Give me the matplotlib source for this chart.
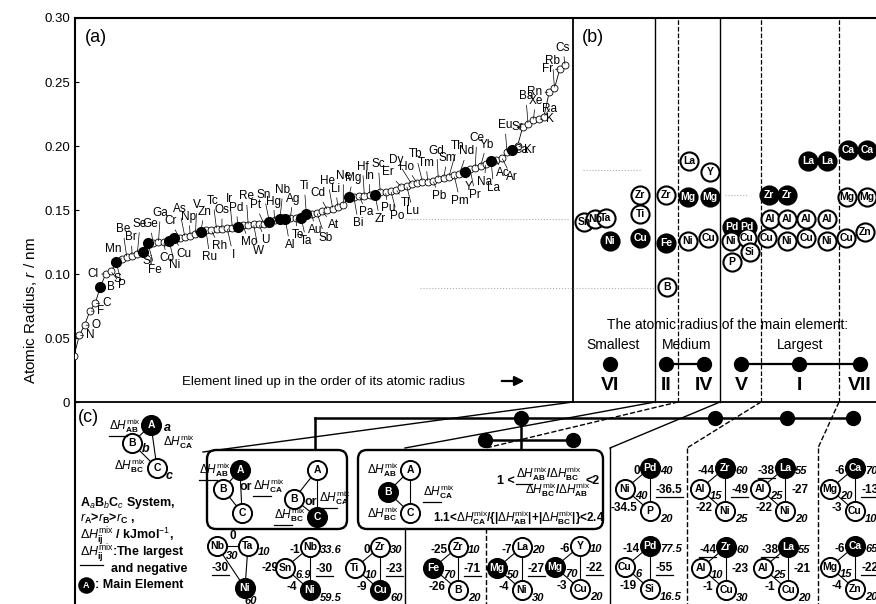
import numpy as np
import matplotlib.pyplot as plt
from matplotlib.patches import FancyBboxPatch
from matplotlib.textpath import TextPath
from matplotlib.font_manager import FontProperties

plt.rcParams['font.family'] = ['Liberation Sans', 'DejaVu Sans']
plt.rcParams['mathtext.fontset'] = 'custom'
plt.rcParams['mathtext.rm'] = 'Liberation Sans'
plt.rcParams['mathtext.it'] = 'Liberation Sans:italic'
plt.rcParams['mathtext.bf'] = 'Liberation Sans:bold'
NARROW = ['Liberation Sans Narrow', 'Liberation Sans']

# ---- (a) elements ordered by atomic radius (nm)
elements = ['H', 'N', 'O', 'F', 'C', 'B', 'Cl', 'S', 'P', 'Mn',
            'Be', 'Br', 'Se', 'Si', 'Fe', 'Ge', 'Ga', 'Co', 'Ni', 'Cu',
            'Cr', 'As', 'Np', 'V', 'Zn', 'Ru', 'Rh', 'Tc', 'Os', 'I',
            'Ir', 'Pd', 'Mo', 'Re', 'W', 'U', 'Pt', 'Sn', 'Hg', 'Nb',
            'Al', 'Ag', 'Te', 'Ta', 'Ti', 'Au', 'Sb', 'At', 'Cd', 'He',
            'Li', 'Ne', 'Mg', 'Bi', 'Pa', 'Hf', 'In', 'Zr', 'Sc', 'Pu',
            'Po', 'Tl', 'Er', 'Lu', 'Dy', 'Ho', 'Tb', 'Tm', 'Pb', 'Gd',
            'Sm', 'Th', 'Pm', 'Nd', 'Y', 'Pr', 'Ce', 'Yb', 'Na', 'La',
            'Ac', 'Ar', 'Eu', 'Ca', 'Kr', 'Sr', 'Ba', 'Xe', 'K', 'Ra',
            'Rn', 'Rb', 'Fr', 'Cs']
radii = [0.036, 0.052, 0.060, 0.071, 0.077, 0.090, 0.100, 0.102, 0.109, 0.112,
         0.113, 0.114, 0.116, 0.117, 0.124, 0.124, 0.125, 0.125, 0.126, 0.128,
         0.128, 0.129, 0.130, 0.131, 0.133, 0.134, 0.134, 0.135, 0.135, 0.136,
         0.136, 0.137, 0.138, 0.138, 0.139, 0.139, 0.139, 0.141, 0.142, 0.143,
         0.143, 0.144, 0.144, 0.144, 0.147, 0.147, 0.148, 0.149, 0.150, 0.151,
         0.152, 0.154, 0.160, 0.160, 0.161, 0.161, 0.162, 0.162, 0.164, 0.164,
         0.165, 0.166, 0.168, 0.169, 0.170, 0.171, 0.172, 0.172, 0.173, 0.174,
         0.175, 0.176, 0.177, 0.178, 0.180, 0.182, 0.183, 0.184, 0.186, 0.188,
         0.189, 0.191, 0.195, 0.197, 0.200, 0.215, 0.217, 0.220, 0.221, 0.223,
         0.242, 0.245, 0.260, 0.263]
label_side = ("rrrrrrlddu" "uuudduuddd" "uuuuudduud" "uududduuuu" "dudduddduu"
              "uuudduudud" "dduduuuudu" "uududduudd" "ddudduuurd" "lulu")

# ---- (b) element circles per column (VI | II | IV | V | I | VII)
b_elem = ['Sn', 'Nb', 'Ta', 'Ti', 'Zr', 'Ni', 'Cu',
          'Zr', 'Fe', 'B',
          'Mg', 'Mg', 'Ni', 'Cu', 'La', 'Y',
          'Pd', 'Pd', 'Ni', 'Cu', 'P', 'Si',
          'Zr', 'Zr', 'La', 'La', 'Al', 'Al', 'Al', 'Al', 'Cu', 'Ni', 'Cu', 'Ni',
          'Ca', 'Ca', 'Mg', 'Mg', 'Cu', 'Zn']
b_main = [0, 0, 0, 0, 0, 1, 1,
          0, 1, 0,
          1, 1, 0, 0, 0, 0,
          1, 1, 0, 0, 0, 0,
          1, 1, 1, 1, 0, 0, 0, 0, 0, 0, 0, 0,
          1, 1, 0, 0, 0, 0]
groups = ['VI', 'II', 'IV', 'V', 'I', 'VII']
group_size = ['Smallest', 'Medium', 'Largest']

# ---- (c) ternary systems: (A, B, C), main element, fractions, dH (AB, BC, CA) kJ/mol
tri_names = [('Pd', 'Ni', 'P'), ('Zr', 'Al', 'Ni'), ('La', 'Al', 'Ni'), ('Ca', 'Mg', 'Cu'),
             ('Pd', 'Cu', 'Si'), ('Zr', 'Al', 'Cu'), ('La', 'Al', 'Cu'), ('Ca', 'Mg', 'Zn'),
             ('Ta', 'Nb', 'Ni'), ('Nb', 'Sn', 'Ni'), ('Zr', 'Ti', 'Cu'), ('Zr', 'Fe', 'B'),
             ('La', 'Mg', 'Ni'), ('Y', 'Mg', 'Cu')]
tri_main = [0, 0, 0, 0, 0, 0, 0, 0, 2, 2, 2, 1, 1, 1]
tri_frac = [('40', '40', '20'), ('60', '15', '25'), ('55', '25', '20'), ('70', '20', '10'),
            ('77.5', '6', '16.5'), ('60', '10', '30'), ('55', '25', '20'), ('65', '15', '20'),
            ('10', '30', '60'), ('33.6', '6.9', '59.5'), ('30', '10', '60'), ('10', '70', '20'),
            ('20', '50', '30'), ('10', '70', '20')]
tri_dh = [(0, -34.5, -36.5), (-44, -22, -49), (-38, -22, -27), (-6, -3, -13),
          (-14, -19, -55), (-44, -1, -23), (-38, -1, -21), (-6, -4, -22),
          (0, -30, -29), (-1, -4, -30), (0, -9, -23), (-25, -26, -71),
          (-7, -4, -27), (-6, -3, -22)]
tri_pos = [(650, 468), (725, 468), (785, 468), (855, 468),
           (650, 546), (726, 547), (788, 547), (855, 546),
           (248, 546), (310, 547), (380, 547), (458, 547), (522, 547), (580, 546)]

PXR = 1280.0   # pixels per nm on the radius axis
fig = plt.figure(figsize=(8.76, 6.04), dpi=100)
ax = fig.add_axes([75 / 876, 0, 801 / 876, 586 / 604])
ax.set_xlim(75, 876)
ax.set_ylim(-202 / PXR, 0.30)
ax.spines['right'].set_visible(False)
ax.spines['bottom'].set_visible(False)
ax.spines['left'].set_linewidth(1.5)
ax.spines['top'].set_linewidth(1.5)
ax.set_xticks([])
ax.set_yticks(np.arange(0, 0.301, 0.05))
ax.set_yticklabels(['0', '0.05', '0.10', '0.15', '0.20', '0.25', '0.30'])
ax.tick_params(axis='y', direction='in', length=3, labelsize=9.5)
ax.set_ylabel('Atomic Radius, $r$ / nm', fontsize=11)
ax.axhline(0, color='k', lw=1.3)

ov = fig.add_axes([0, 0, 1, 1])
ov.set_xlim(0, 876)
ov.set_ylim(604, 0)
ov.axis('off')

under = []

# ---- panel (a)
xs = 74 + 5.28 * np.arange(len(elements))
r = np.array(radii)
is_main = np.array([e in b_elem for e in elements])
ax.plot(xs, r, color='k', lw=0.6, zorder=2)
ax.plot(xs[~is_main], r[~is_main], 'o', mfc='white', mec='k', ms=5, mew=0.6, zorder=3)
ax.plot(xs[is_main], r[is_main], 'o', color='k', ms=7, zorder=4)

fp_lab = FontProperties(family=NARROW, size=8.5)


def text_w(s, fp):
    return TextPath((0, 0), s, prop=fp).get_extents().width * 100 / 72


def spread(idx, dx, gap=0.62):
    pos = np.array([xs[i] + dx for i in idx], float)
    py = r[idx] * PXR
    w = np.array([text_w(elements[i], fp_lab) + 2 for i in idx])
    for _ in range(500):
        moved = False
        for k in range(len(pos) - 1):
            if abs(py[k + 1] - py[k]) > 12:
                continue
            need = (w[k] + w[k + 1]) / 2 * gap - (pos[k + 1] - pos[k])
            if need > 0.01:
                pos[k] -= need / 2
                pos[k + 1] += need / 2
                moved = True
        if not moved:
            break
    return pos


lead = dict(arrowstyle='-', lw=0.5, color='k', shrinkA=0, shrinkB=1)
for side, dx, offs, va in [('u', -2, (13, 23), 'bottom'), ('d', 6, (-11, -21), 'top')]:
    idx = np.array([i for i, s in enumerate(label_side) if s == side])
    pos = spread(idx, dx)
    for k, (i, lx) in enumerate(zip(idx, pos)):
        ly = np.interp(lx, xs, r) + offs[k % 2] / PXR
        ax.annotate(elements[i], xy=(xs[i], r[i]), xytext=(lx, ly), ha='center', va=va,
                    fontproperties=fp_lab, arrowprops=lead, zorder=3)
for i, s in enumerate(label_side):
    if s in 'rl':
        sgn = 1 if s == 'r' else -1
        ax.annotate(elements[i], xy=(xs[i], r[i]), xytext=(xs[i] + sgn * 7, r[i]),
                    ha='left' if s == 'r' else 'right', va='center',
                    fontproperties=fp_lab, arrowprops=lead, zorder=3)

ov.text(96, 38, '(a)', fontsize=13, ha='center', va='center')
ov.text(182, 382, 'Element lined up in the order of its atomic radius', fontsize=9.5,
        ha='left', va='center')
ov.annotate('', xy=(527, 381), xytext=(499, 381),
            arrowprops=dict(arrowstyle='-|>', lw=1.6, color='k', mutation_scale=14))

# ---- panel (b)
for x, ls, lw in [(573, '-', 1.3), (655, '-', 1.0), (678, '--', 0.9), (720, '-', 1.0),
                  (761, '--', 0.9), (839, '--', 0.9)]:
    ax.plot([x, x], [0, 0.30], color='k', ls=ls, lw=lw, zorder=1)
for yv, x0, x1 in [(0.143, 405, 570), (0.089, 420, 655), (0.181, 583, 640), (0.162, 725, 748)]:
    ax.plot([x0, x1], [yv, yv], color='#b0b0b0', ls=':', lw=0.8, zorder=1)

rad_of = dict(zip(elements, radii))
b_x = [584, 595, 606, 640, 640, 610, 640,
       666, 666, 667,
       688, 710, 688, 708, 689, 710,
       732, 747, 731, 747, 732, 750,
       769, 787, 808, 827, 770, 787, 806, 827, 767, 787, 806, 827,
       848, 867, 847, 867, 846, 865]
for name, x, m in zip(b_elem, b_x, b_main):
    yv = rad_of[name]
    ax.scatter([x], [yv], s=170, c='k' if m else 'white', edgecolors='k', linewidths=1.5, zorder=5)
    ax.text(x, yv, name, ha='center', va='center', fontsize=7.5, fontweight='bold', family=NARROW,
            color='white' if m else 'k', zorder=6)

ov.text(593, 38, '(b)', fontsize=13, ha='center', va='center')
ov.text(728, 325, 'The atomic radius of the main element:', fontsize=10, ha='center', va='center')
for s, x in zip(group_size, [613, 687, 800]):
    ov.text(x, 345, s, fontsize=10, ha='center', va='center')
gx = [610, 666, 704, 741, 799, 860]
ov.plot(gx[1:3], [364, 364], color='k', lw=1.6)
ov.plot(gx[3:], [364] * 3, color='k', lw=1.6)
ov.plot(gx, [364] * 6, 'o', color='k', ms=10)
for g, x in zip(groups, gx):
    ov.text(x, 386, g, fontsize=14, fontweight='bold', ha='center', va='center')

# ---- panel (c)


def circ(x, y, name, filled, s=190, fs=7.5):
    ov.scatter([x], [y], s=s, c='k' if filled else 'white', edgecolors='k', linewidths=1.4, zorder=5)
    ov.text(x, y, name, ha='center', va='center', fontsize=fs, fontweight='bold', family=NARROW,
            color='white' if filled else 'k', zorder=6)


def seg(p, q, **kw):
    ov.plot([p[0], q[0]], [p[1], q[1]], color='k', lw=kw.get('lw', 0.8), ls=kw.get('ls', '-'),
            zorder=kw.get('z', 4))


def dh(sub):
    return r'$\Delta\mathit{H}^{\rm mix}_{\mathbf{%s}}$' % sub


def txt(x, y, s, ul=0, **kw):
    kw.setdefault('fontsize', 8.5)
    kw.setdefault('fontweight', 'bold')
    kw.setdefault('va', 'center')
    t = ov.text(x, y, s, zorder=7, **kw)
    if ul:
        under.append((t, ul))
    return t


def triangle(anchor, names, main, fracs, vals, flat=False):
    x, y = anchor
    if flat:
        pts = [(x, y), (x - 31, y), (x - 3, y + 42)]
        fr_at = [(x + 10, y + 6), (pts[1][0] + 9, y + 10), (pts[2][0] - 1, pts[2][1] + 13)]
        dh_at = [(x - 15.5, y - 10, 'center'), (x - 19, y + 22, 'right'), (x + 13, y + 22, 'left')]
    else:
        pts = [(x, y), (x - 25, y + 21), (x, y + 43)]
        fr_at = [(x + 10, y + 3), (x - 15, y + 28), (x + 10, y + 51)]
        dh_at = [(x - 10, y + 3, 'right'), (x - 13, y + 40, 'right'), (x + 6, y + 22, 'left')]
    for a, b in [(0, 1), (1, 2), (2, 0)]:
        seg(pts[a], pts[b])
    for k in range(3):
        circ(pts[k][0], pts[k][1], names[k], k == main)
        txt(fr_at[k][0], fr_at[k][1], fracs[k], ha='left', fontsize=8, style='italic')
    lo = int(np.argmin(vals))
    for k in range(3):
        px, py, ha = dh_at[k]
        txt(px, py, '%g' % vals[k], ul=1.0 if k == lo else 0, ha=ha)


for args in zip(tri_pos, tri_names, tri_main, tri_frac, tri_dh):
    triangle(*args, flat=(args[1][0] == 'Ta'))

# tree connecting the groups
ov.plot([315, 853], [418, 418], color='k', lw=1.8)
ov.plot([315, 315], [418, 450], color='k', lw=1.8)
ov.plot([521, 521], [418, 450], color='k', lw=1.8)
ov.plot([485, 573], [440, 440], color='k', lw=1.8)
ov.plot([521, 715, 787, 853], [418] * 4, 'o', color='k', ms=10)
ov.plot([485, 573], [440, 440], 'o', color='k', ms=10)

# zoom lines from panel (b) columns down to panel (c)
seg((573, 402), (203, 452), lw=1.0)
seg((655, 402), (405, 448), lw=1.0)
seg((405, 528), (405, 604), lw=1.0)
seg((678, 402), (486, 448), lw=1.0, ls='--')
seg((486, 528), (486, 604), lw=1.0, ls='--')
seg((720, 402), (610, 448), lw=1.0)
seg((610, 448), (610, 604), lw=1.0)
seg((761, 402), (687, 448), lw=1.0, ls='--')
seg((687, 448), (687, 604), lw=1.0, ls='--')
seg((839, 402), (818, 448), lw=1.0, ls='--')
seg((818, 448), (818, 604), lw=1.0, ls='--')

for x0, w in [(207, 140), (358, 245)]:
    ov.add_patch(FancyBboxPatch((x0, 450), w, 79, boxstyle='round,pad=0,rounding_size=9',
                                fc='white', ec='k', lw=1.7, zorder=3))

# box 1: A or C is the main element
pa, pb, pc = (240, 470), (223, 489), (242, 513)
seg(pa, pb); seg(pb, pc); seg(pa, pc)
circ(*pa, 'A', True); circ(*pb, 'B', False); circ(*pc, 'C', False)
txt(231, 470, dh('AB'), ul=0.55, ha='right', fontweight='normal')
txt(246, 487, 'or', ha='center', fontsize=9)
txt(253, 486, dh('CA'), ul=0.55, ha='left', fontweight='normal')
pa, pb, pc = (317, 470), (294, 499), (317, 517)
seg(pa, pb); seg(pb, pc); seg(pa, pc)
circ(*pa, 'A', False); circ(*pb, 'B', False); circ(*pc, 'C', True)
txt(306, 515, dh('BC'), ul=0.55, ha='right', fontweight='normal')
txt(311, 502, 'or', ha='center', fontsize=9)
txt(319, 498, dh('CA'), ul=0.55, ha='left', fontweight='normal')

# box 2: B is the main element
pa, pb, pc = (410, 470), (388, 492), (410, 513)
seg(pa, pb); seg(pb, pc); seg(pa, pc)
circ(*pa, 'A', False); circ(*pb, 'B', True); circ(*pc, 'C', False)
txt(399, 470, dh('AB'), ha='right', fontweight='normal')
txt(423, 492, dh('CA'), ul=0.55, ha='left', fontweight='normal')
txt(399, 514, dh('BC'), ha='right', fontweight='normal')
txt(497, 481, '1 <', ha='left', fontsize=9)
txt(516, 474, dh('AB') + '/' + dh('BC'), ul=0.25, ha='left')
txt(525, 490, dh('BC') + '/' + dh('AB'), ha='left')
txt(585, 481, '<2', ha='left', fontsize=9)
txt(433, 518, '1.1<' + dh('CA') + '/{|' + dh('AB') + '|+|' + dh('BC') + '|}<2.4', ha='left')

# legend of panel (c)
ov.text(88, 418, '(c)', fontsize=13, ha='center', va='center')
pa, pb, pc = (151, 425), (132, 443), (157, 468)
seg(pa, pb); seg(pb, pc); seg(pa, pc)
circ(*pa, 'A', True); circ(*pb, 'B', False); circ(*pc, 'C', False)
txt(141, 426, dh('AB'), ul=0.55, ha='right', fontweight='normal')
txt(164, 428, 'a', ha='left', style='italic', fontsize=9)
txt(142, 449, 'b', ha='left', style='italic', fontsize=9)
txt(163, 442, dh('CA'), ha='left', fontweight='normal')
txt(146, 466, dh('BC'), ha='right', fontweight='normal')
txt(166, 476, 'c', ha='left', style='italic', fontsize=9)
txt(80, 503, r'A$_{\mathit{a}}$B$_{\mathit{b}}$C$_{\mathit{c}}$ System,', ha='left', fontsize=9)
txt(80, 519, r'$\mathit{r}_{\mathbf{A}}$>$\mathit{r}_{\mathbf{B}}$>$\mathit{r}_{\mathbf{C}}$ ,',
    ha='left', fontsize=9)
txt(80, 536, dh('ij') + ' / kJmol$^{-1}$,', ha='left', fontsize=9)
txt(80, 553, dh('ij') + ':The largest', ul=0.22, ha='left', fontsize=9)
txt(111, 569, 'and negative', ha='left', fontsize=9)
circ(86, 585, 'A', True, s=110, fs=6.5)
txt(95, 585, ': Main Element', ha='left', fontsize=9)

# underline the marked texts
fig.canvas.draw()
rend = fig.canvas.get_renderer()
for t, frac in under:
    bb = t.get_window_extent(rend)
    yl = 604 - bb.y0 + 0.5
    ov.plot([bb.x0, bb.x0 + frac * bb.width], [yl, yl], color='k', lw=0.9, zorder=7)

fig.savefig('out.png', dpi=100)
